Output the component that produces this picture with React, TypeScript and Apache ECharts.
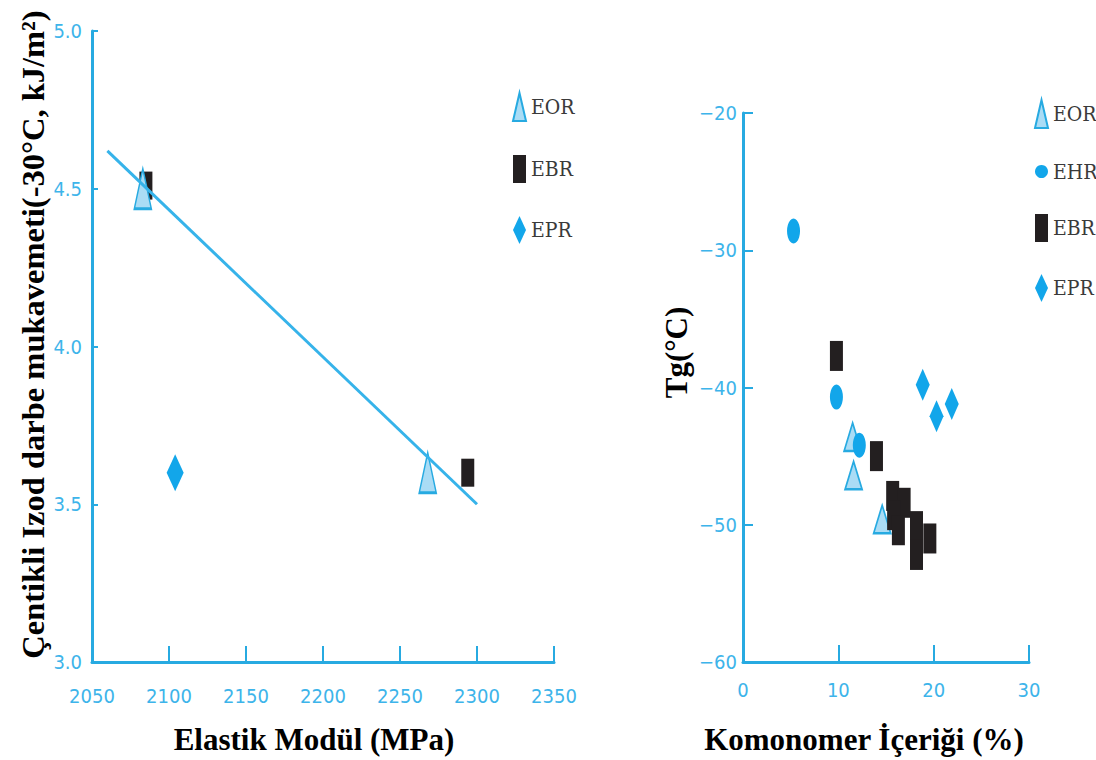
import React, { useEffect, useRef } from "react";
import * as echarts from "echarts";

// ---- Left chart data (Elastik Modül vs Izod) ----
const leftXTicks = [2050, 2100, 2150, 2200, 2250, 2300, 2350];
const leftEOR = [[2083, 4.5], [2268, 3.6]];
const leftEBR = [[2085, 4.51], [2294, 3.6]];
const leftEPR = [[2104, 3.6]];
const leftFit = [[2060, 4.62], [2300, 3.5]];

// ---- Right chart data (Komonomer İçeriği vs Tg) ----
const rightEOR = [[11.5, -43.6], [11.6, -46.4], [14.6, -49.6]];
const rightEHR = [[5.3, -28.6], [9.8, -40.7], [12.2, -44.2]];
const rightEBR = [
  [9.8, -37.7], [14.0, -45.0], [15.7, -47.9], [16.9, -48.4], [15.8, -49.3],
  [16.3, -50.4], [18.2, -50.1], [19.6, -51.0], [18.2, -52.2],
];
const rightEPR = [[18.85, -39.8], [20.3, -42.1], [21.9, -41.2]];

const leftLegend = ["EOR", "EBR", "EPR"];
const rightLegend = ["EOR", "EHR", "EBR", "EPR"];

const BLUE = "#27aae1";
const LABEL_BLUE = "#3db4ea";
const BLACK = "#231f20";
const MARK_BLUE = "#12a6ea";
const TICK_FONT = "'Liberation Sans Narrow', 'DejaVu Sans Condensed', 'Roboto', sans-serif";
const TITLE_FONT = "'Liberation Serif', 'Times New Roman', serif";
const LEGEND_FONT = "'DejaVu Serif Condensed', 'DejaVu Serif', serif";

export default function App() {
  const ref = useRef<HTMLDivElement>(null);

  useEffect(() => {
    document.body.style.margin = "0";
    if (!ref.current) return;
    const chart = echarts.init(ref.current, null, { renderer: "svg" });

    const axisLine = { show: true, lineStyle: { color: BLUE, width: 3 } };
    const tickLabel = (margin: number, fmt?: (v: number) => string) => ({
      color: LABEL_BLUE,
      fontFamily: TICK_FONT,
      fontSize: 20,
      margin,
      formatter: fmt,
    });
    const titleStyle = (padding: number[], size = 31) => ({
      fontFamily: TITLE_FONT,
      fontWeight: "bold" as const,
      fontSize: size,
      color: "#000",
      padding,
    });

    const triStyle = { color: "#aadcf5", borderColor: BLUE, borderWidth: 2, opacity: 1 };
    const legendText = { fontFamily: LEGEND_FONT, fontSize: 21, color: "#3a3a3a" };

    chart.setOption({
      animation: false,
      backgroundColor: "#fff",
      grid: [
        { left: 92, top: 31, width: 462, height: 632 },
        { left: 743, top: 113, width: 286, height: 550 },
      ],
      xAxis: [
        {
          gridIndex: 0,
          type: "value",
          min: leftXTicks[0],
          max: leftXTicks[leftXTicks.length - 1],
          interval: 50,
          axisLine,
          axisTick: { show: true, inside: true, length: 16, lineStyle: { color: BLUE, width: 2 } },
          axisLabel: tickLabel(24, (v: number) => String(v)),
          splitLine: { show: false },
          name: "Elastik Modül (MPa)",
          nameLocation: "middle",
          nameGap: 62,
          nameTextStyle: titleStyle([0, 18, 0, 0]),
        },
        {
          gridIndex: 1,
          type: "value",
          min: 0,
          max: 30,
          interval: 10,
          axisLine,
          axisTick: { show: true, inside: true, length: 17, lineStyle: { color: BLUE, width: 2 } },
          axisLabel: tickLabel(18, (v: number) => String(v)),
          splitLine: { show: false },
          name: "Komonomer İçeriği (%)",
          nameLocation: "middle",
          nameGap: 62,
          nameTextStyle: titleStyle([0, 44, 0, 0]),
        },
      ],
      yAxis: [
        {
          gridIndex: 0,
          type: "value",
          min: 3,
          max: 5,
          interval: 0.5,
          axisLine,
          axisTick: { show: true, inside: true, length: 6, lineStyle: { color: BLUE, width: 2 } },
          axisLabel: tickLabel(10, (v: number) => v.toFixed(1)),
          splitLine: { show: false },
          name: "Çentikli Izod darbe mukavemeti(-30°C, kJ/m²)",
          nameLocation: "middle",
          nameRotate: 90,
          nameGap: 32,
          nameTextStyle: titleStyle([0, 0, 0, 24], 32.5),
        },
        {
          gridIndex: 1,
          type: "value",
          min: -60,
          max: -20,
          interval: 10,
          axisLine,
          axisTick: { show: true, inside: true, length: 10, lineStyle: { color: BLUE, width: 2 } },
          axisLabel: tickLabel(6, (v: number) => String(v).replace("-", "−")),
          splitLine: { show: false },
          name: "Tg(°C)",
          nameLocation: "middle",
          nameRotate: 90,
          nameGap: 51,
          nameTextStyle: titleStyle([0, 0, 0, 70]),
        },
      ],
      legend: [
        {
          data: leftLegend,
          orient: "vertical",
          left: 507,
          top: 87,
          itemWidth: 13,
          itemHeight: 28,
          itemGap: 33,
          selectedMode: false,
          textStyle: legendText,
        },
        {
          data: rightLegend,
          orient: "vertical",
          left: 1029,
          top: 94,
          itemWidth: 13,
          itemHeight: 28,
          itemGap: 32,
          selectedMode: false,
          textStyle: legendText,
        },
      ],
      series: [
        {
          name: "EBR", type: "scatter", xAxisIndex: 0, yAxisIndex: 0, data: leftEBR,
          symbol: "rect", symbolSize: [13, 28], itemStyle: { color: BLACK, opacity: 1 }, z: 2,
        },
        {
          name: "EOR", type: "scatter", xAxisIndex: 0, yAxisIndex: 0, data: leftEOR,
          symbol: "triangle", symbolSize: [17, 40], itemStyle: triStyle, z: 3,
        },
        {
          name: "EPR", type: "scatter", xAxisIndex: 0, yAxisIndex: 0, data: leftEPR,
          symbol: "diamond", symbolSize: [17, 37], itemStyle: { color: MARK_BLUE, opacity: 1 }, z: 3,
        },
        {
          name: "fit", type: "line", xAxisIndex: 0, yAxisIndex: 0, data: leftFit,
          showSymbol: false, symbol: "none", lineStyle: { color: "#36b3ea", width: 3 }, z: 4,
        },
        {
          name: "EOR", type: "scatter", xAxisIndex: 1, yAxisIndex: 1, data: rightEOR,
          symbol: "triangle", symbolSize: [17, 28], itemStyle: triStyle, z: 2,
        },
        {
          name: "EHR", type: "scatter", xAxisIndex: 1, yAxisIndex: 1, data: rightEHR,
          symbol: "circle", symbolSize: [13, 25], itemStyle: { color: MARK_BLUE, opacity: 1 }, z: 3,
        },
        {
          name: "EBR", type: "scatter", xAxisIndex: 1, yAxisIndex: 1, data: rightEBR,
          symbol: "rect", symbolSize: [13, 30], itemStyle: { color: BLACK, opacity: 1 }, z: 4,
        },
        {
          name: "EPR", type: "scatter", xAxisIndex: 1, yAxisIndex: 1, data: rightEPR,
          symbol: "diamond", symbolSize: [14, 32], itemStyle: { color: MARK_BLUE, opacity: 1 }, z: 3,
        },
      ],
    });

    return () => chart.dispose();
  }, []);

  return <div ref={ref} style={{ width: 1096, height: 760 }} />;
}
